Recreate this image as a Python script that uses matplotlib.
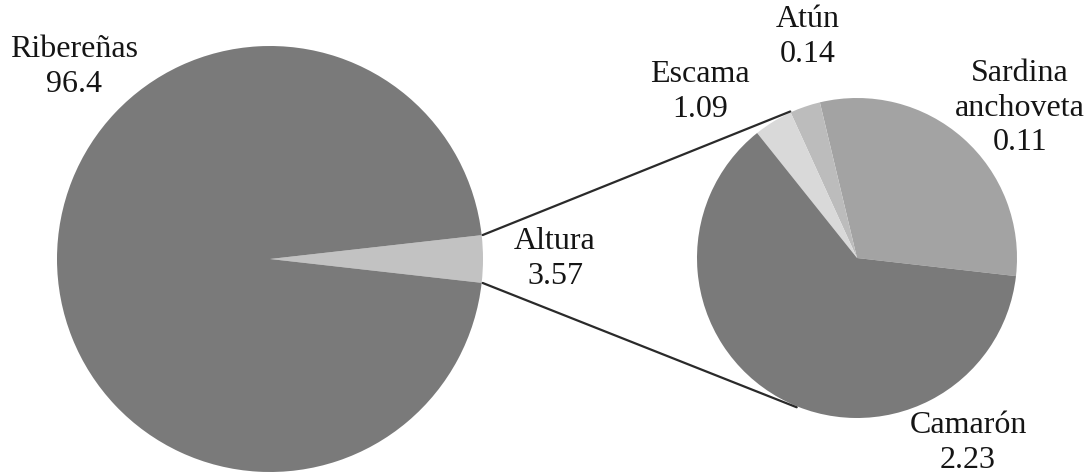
import numpy as np
import matplotlib.pyplot as plt

plt.rcParams['font.family'] = ['Liberation Serif', 'DejaVu Serif']

# main pie: catch by fleet (%)
main_labels = ["Ribereñas", "Altura"]
main_values = [96.4, 3.57]

# breakdown of the "Altura" slice
sub_labels = ["Escama", "Sardina\nanchoveta", "Atún", "Camarón"]
sub_values = [1.09, 0.11, 0.14, 2.23]

W, H = 1091, 475
fig = plt.figure(figsize=(W / 100, H / 100), dpi=100)
ax = fig.add_axes([0, 0, 1, 1])

main_c, main_r = (270, H - 259), 213
sub_c, sub_r = (857, H - 258), 160

# Altura wedge centred on the horizontal
alt_frac = main_values[1] / sum(main_values)
alt_start = -alt_frac * 360 / 2
ax.pie(main_values[::-1], colors=["#c2c2c2", "#7a7a7a"], startangle=alt_start,
       center=main_c, radius=main_r, counterclock=True,
       wedgeprops=dict(linewidth=0))

ax.pie(sub_values, colors=["#a3a3a3", "#bcbcbc", "#d9d9d9", "#7a7a7a"],
       startangle=-6.5, center=sub_c, radius=sub_r, counterclock=True,
       wedgeprops=dict(linewidth=0))

# connector lines from the Altura wedge to the second pie
def on_circle(c, r, ang):
    a = np.deg2rad(ang)
    return c[0] + r * np.cos(a), c[1] + r * np.sin(a)

alt_end = -alt_start
for a_main, a_sub in [(alt_end, 114.5), (alt_start, 248.0)]:
    x0, y0 = on_circle(main_c, main_r + 1, a_main)
    x1, y1 = on_circle(sub_c, sub_r + 1, a_sub)
    ax.plot([x0, x1], [y0, y1], color="#2a2a2a", lw=1.6, solid_capstyle="round")

txt = dict(fontsize=23, ha="center", va="center", linespacing=1.26, color="#151515")
ax.text(74, H - 67, f"{main_labels[0]}\n{main_values[0]}", **txt)
ax.text(555, H - 259, f"{main_labels[1]}\n{main_values[1]}", **txt)
ax.text(700, H - 92, f"{sub_labels[0]}\n{sub_values[0]}", **txt)
ax.text(1020, H - 108, f"{sub_labels[1]}\n{sub_values[1]}", **txt)
ax.text(808, H - 37, f"{sub_labels[2]}\n{sub_values[2]}", **txt)
ax.text(968, H - 443, f"{sub_labels[3]}\n{sub_values[3]}", **txt)

ax.set_xlim(0, W)
ax.set_ylim(0, H)
ax.set_aspect("equal")
ax.axis("off")

fig.savefig("out.png", dpi=100, facecolor="white")
